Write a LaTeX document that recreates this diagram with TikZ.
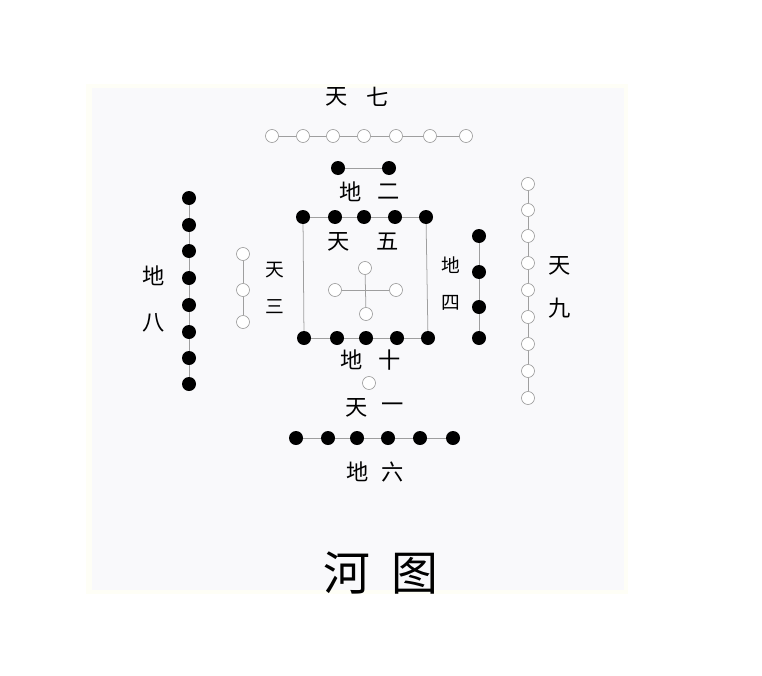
\documentclass[tikz,border=0pt]{standalone}
\usepackage{fontspec}
\newfontfamily\cjk{Noto Sans CJK SC}
\definecolor{paper}{RGB}{249,249,251}
\definecolor{rim}{RGB}{254,254,246}
\tikzset{
  yang/.style={circle,draw=gray!80,fill=white,line width=0.55pt,minimum size=0.39cm,inner sep=0pt},
  yin/.style={circle,fill=black,minimum size=0.42cm,inner sep=0pt},
  link/.style={draw=gray!75,line width=0.65pt},
  lbl/.style={font=\cjk\fontsize{19}{19}\selectfont},
  sidelbl/.style={font=\cjk\fontsize{16}{16}\selectfont}
}
\begin{document}
\begin{tikzpicture}[x=0.03cm,y=-0.03cm]
    \useasboundingbox (0,0) rectangle (762,675);
    \fill[white] (0,0) rectangle (762,675);
    \fill[rim] (86,84) rectangle (628,594);
    \fill[paper] (92,88) rectangle (624,590);

    % Top (天七)
    \foreach \x [count=\i] in {272,303,333,364,396,430,466}
        \node[yang] (q\i) at (\x,136) {};
    \foreach \i/\j in {1/2,2/3,3/4,4/5,5/6,6/7}
        \draw[link] (q\i) -- (q\j);
    \node[lbl] (q-a) at (337,97) {天};
    \node[lbl] (q-b) at (378,97) {七};

    % Top inner (地二)
    \node[yin] (e1) at (338,168) {};
    \node[yin] (e2) at (389,168) {};
    \draw[link] (e1) -- (e2);
    \node[lbl] (e-a) at (351,192) {地};
    \node[lbl] (e-b) at (389,192) {二};

    % Centre box (地十) and cross (天五)
    \foreach \x [count=\i] in {303,335,364,395,426}
        \node[yin] (bt\i) at (\x,217) {};
    \foreach \x [count=\i] in {304,337,366,397,428}
        \node[yin] (bb\i) at (\x,338) {};
    \foreach \i/\j in {1/2,2/3,3/4,4/5} {
        \draw[link] (bt\i) -- (bt\j);
        \draw[link] (bb\i) -- (bb\j);
    }
    \draw[link] (bt1) -- (bb1);
    \draw[link] (bt5) -- (bb5);
    \node[lbl] (f-a) at (339,242) {天};
    \node[lbl] (f-b) at (388,242) {五};
    \node[yang] (cn) at (365,268) {};
    \node[yang] (cw) at (335,290) {};
    \node[yang] (ce) at (396,290) {};
    \node[yang] (cs) at (366,314) {};
    \draw[link] (cn) -- (cs);
    \draw[link] (cw) -- (ce);
    \node[lbl] (t-a) at (352,360) {地};
    \node[lbl] (t-b) at (390,360) {十};

    % Bottom inner (天一)
    \node[yang] (o1) at (369,383) {};
    \node[lbl] (o-a) at (357,408) {天};
    \node[lbl] (o-b) at (393,408) {一};

    % Bottom (地六)
    \foreach \x [count=\i] in {296,328,357,388,420,453}
        \node[yin] (s\i) at (\x,438) {};
    \foreach \i/\j in {1/2,2/3,3/4,4/5,5/6}
        \draw[link] (s\i) -- (s\j);
    \node[lbl] (s-a) at (358,472) {地};
    \node[lbl] (s-b) at (393,472) {六};

    % Left (地八)
    \foreach \y [count=\i] in {198,225,251,278,305,332,358,384}
        \node[yin] (w\i) at (189,\y) {};
    \foreach \i/\j in {1/2,2/3,3/4,4/5,5/6,6/7,7/8}
        \draw[link] (w\i) -- (w\j);
    \node[lbl] (w-a) at (154,276) {地};
    \node[lbl] (w-b) at (154,323) {八};

    % Left inner (天三)
    \foreach \y [count=\i] in {254,290,322}
        \node[yang] (h\i) at (243,\y) {};
    \draw[link] (h1) -- (h2);
    \draw[link] (h2) -- (h3);
    \node[sidelbl] (h-a) at (275,270) {天};
    \node[sidelbl] (h-b) at (275,307) {三};

    % Right inner (地四)
    \foreach \y [count=\i] in {236,272,307,338}
        \node[yin] (r\i) at (479,\y) {};
    \foreach \i/\j in {1/2,2/3,3/4}
        \draw[link] (r\i) -- (r\j);
    \node[sidelbl] (r-a) at (451,265) {地};
    \node[sidelbl] (r-b) at (451,303) {四};

    % Right (天九)
    \foreach \y [count=\i] in {184,210,236,263,290,317,344,371,398}
        \node[yang] (n\i) at (528,\y) {};
    \foreach \i/\j in {1/2,2/3,3/4,4/5,5/6,6/7,7/8,8/9}
        \draw[link] (n\i) -- (n\j);
    \node[lbl] (n-a) at (560,266) {天};
    \node[lbl] (n-b) at (560,308) {九};

    % Title
    \node[font=\cjk\fontsize{40}{40}\selectfont] (title) at (381,573) {河\hspace{0.45em}图};
\end{tikzpicture}
\end{document}
